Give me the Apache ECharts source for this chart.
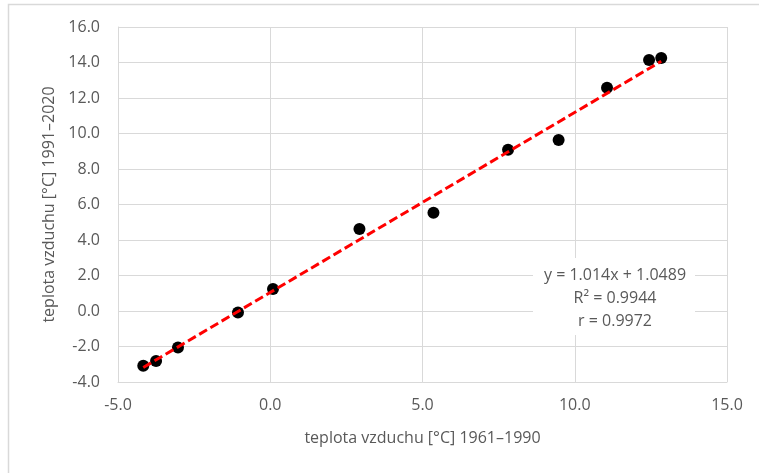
<!DOCTYPE html>
<html>
<head>
<meta charset="utf-8">
<script src="https://cdn.jsdelivr.net/npm/echarts@6/dist/echarts.min.js"></script>
<style>
  html, body { margin: 0; padding: 0; background: #fff; }
  #chart { width: 759px; height: 473px; }
</style>
</head>
<body>
<div id="chart"></div>
<script>
// body teplot: 1961–1990 (x) vs 1991–2020 (y)
const xValues = [-4.17, -3.75, -3.03, -1.06, 0.09, 2.93, 5.36, 7.81, 9.47, 11.06, 12.44, 12.84]
const yValues = [-3.08, -2.82, -2.05, -0.09, 1.24, 4.62, 5.54, 9.09, 9.63, 12.58, 14.14, 14.25]
// lineární trend (z popisku)
const slope = 1.014
const intercept = 1.0489
const trendLabel = ['y = 1.014x + 1.0489', 'R² = 0.9944', 'r = 0.9972']

const points = xValues.map((x, i) => [x, yValues[i]])
const xMin = Math.min(...xValues)
const xMax = Math.max(...xValues)
const trendData = [
  [xMin, slope * xMin + intercept],
  [xMax, slope * xMax + intercept]
]

const gray = '#595959'
const gridColor = '#d9d9d9'
const font = '"Open Sans", sans-serif'

const myChart = echarts.init(document.getElementById('chart'))

const options = {
  animation: false,
  grid: {
    left: 118,
    right: 32,
    top: 27,
    bottom: 91
  },
  xAxis: {
    type: 'value',
    min: -5,
    max: 15,
    interval: 5,
    name: 'teplota vzduchu [°C] 1961–1990',
    nameLocation: 'middle',
    nameGap: 48,
    nameTextStyle: { color: gray, fontSize: 16, fontFamily: font },
    axisLine: { show: true, onZero: false, lineStyle: { color: gridColor, width: 1 } },
    axisTick: { show: false },
    axisLabel: {
      color: gray,
      fontSize: 16,
      fontFamily: font,
      margin: 15,
      formatter: v => v.toFixed(1)
    },
    splitLine: { show: true, lineStyle: { color: gridColor, width: 1 } }
  },
  yAxis: {
    type: 'value',
    min: -4,
    max: 16,
    interval: 2,
    name: 'teplota vzduchu [°C] 1991–2020',
    nameLocation: 'middle',
    nameGap: 58,
    nameTextStyle: { color: gray, fontSize: 16, fontFamily: font },
    axisLine: { show: true, onZero: false, lineStyle: { color: gridColor, width: 1 } },
    axisTick: { show: false },
    axisLabel: {
      color: gray,
      fontSize: 16,
      fontFamily: font,
      margin: 18,
      formatter: v => v.toFixed(1)
    },
    splitLine: { show: true, lineStyle: { color: gridColor, width: 1 } }
  },
  series: [
    {
      name: 'body',
      type: 'scatter',
      data: points,
      symbol: 'circle',
      symbolSize: 12,
      itemStyle: { color: '#000', opacity: 1 },
      z: 2
    },
    {
      name: 'trend',
      type: 'line',
      data: trendData,
      showSymbol: false,
      symbol: 'none',
      lineStyle: { color: '#ff0000', width: 3, type: [9, 4] },
      z: 3
    }
  ],
  graphic: [
    {
      // rámeček grafu
      type: 'polyline',
      shape: { points: [[8.5, 480], [8.5, 4.5], [770, 4.5]] },
      style: { stroke: gridColor, lineWidth: 1.5, fill: null },
      silent: true
    },
    {
      type: 'rect',
      shape: { x: 533, y: 258, width: 162, height: 77 },
      style: { fill: '#fff' },
      z: 10,
      silent: true
    },
    {
      type: 'text',
      x: 615,
      y: 298,
      style: {
        text: trendLabel.join('\n'),
        fill: gray,
        font: '16px ' + font,
        lineHeight: 23,
        align: 'center',
        verticalAlign: 'middle'
      },
      z: 11,
      silent: true
    }
  ]
}

myChart.setOption(options)
window.addEventListener('resize', () => myChart.resize())
</script>
</body>
</html>
